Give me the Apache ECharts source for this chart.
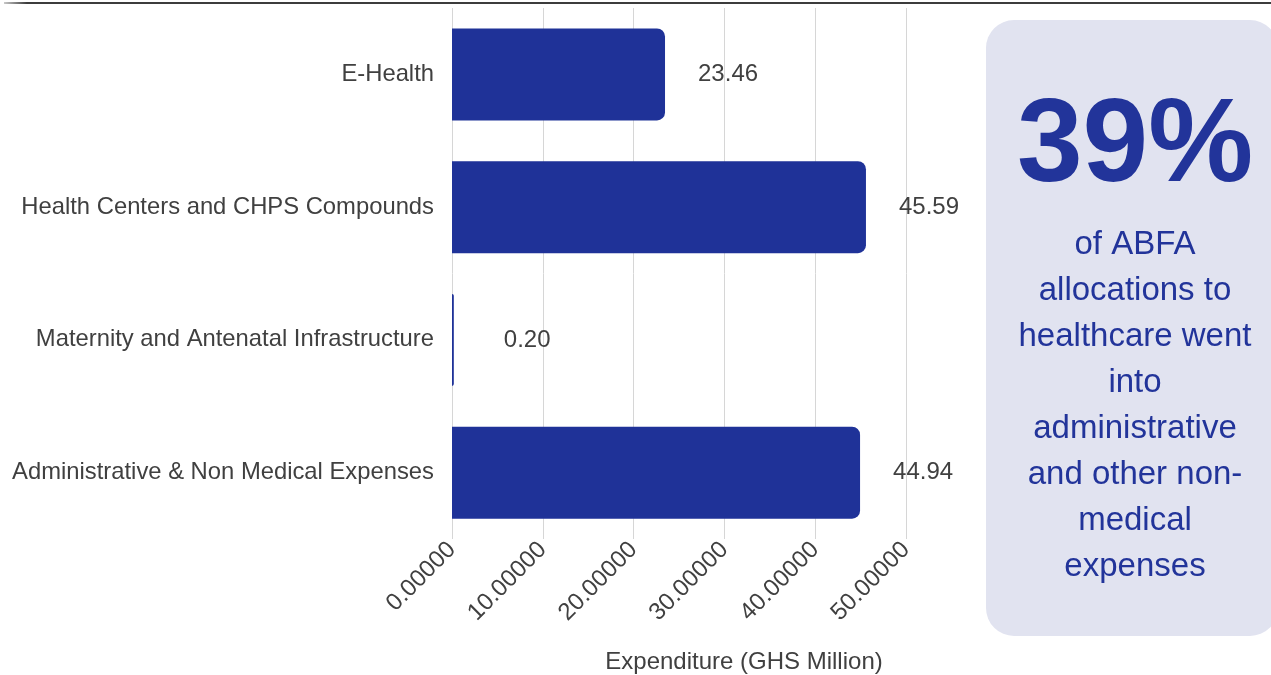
<!DOCTYPE html>
<html>
<head>
<meta charset="utf-8">
<script src="https://cdn.jsdelivr.net/npm/echarts@6/dist/echarts.min.js"></script>
<style>
  html, body { margin: 0; padding: 0; background: #ffffff; }
  #chart { width: 1271px; height: 675px; }
</style>
</head>
<body>
<div id="chart"></div>
<script>
// ABFA healthcare spending by category (GHS million)
const categories = [
  'E-Health',
  'Health Centers and CHPS Compounds',
  'Maternity and Antenatal Infrastructure',
  'Administrative & Non Medical Expenses'
];
const expenditure = [23.46, 45.59, 0.20, 44.94];
const axisTicks = [0, 10, 20, 30, 40, 50];
const axisTitle = 'Expenditure (GHS Million)';
const calloutFigure = '39%';
const calloutLines = [
  'of ABFA',
  'allocations to',
  'healthcare went',
  'into',
  'administrative',
  'and other non-',
  'medical',
  'expenses'
];

const FONT = '"Liberation Sans", Arial, sans-serif';
const TEXT = '#404040';
const BAR = '#1f3298';
const ACCENT = '#22349a';

const chart = echarts.init(document.getElementById('chart'), null, { renderer: 'canvas' });

const barData = expenditure.map(v => ({
  value: v,
  label: { distance: v < 1 ? 50 : 33 }
}));

chart.setOption({
  animation: false,
  backgroundColor: '#ffffff',
  grid: {
    left: 452, right: 365, top: 8, bottom: 136,
    containLabel: false,
    outerBoundsMode: 'none'
  },
  xAxis: {
    type: 'value',
    min: axisTicks[0],
    max: axisTicks[axisTicks.length - 1],
    interval: axisTicks[1] - axisTicks[0],
    axisLine: { show: false },
    axisTick: { show: false },
    splitLine: { show: true, lineStyle: { color: '#d6d6d6', width: 1 } },
    axisLabel: {
      rotate: 45,
      margin: 7,
      color: TEXT,
      fontFamily: FONT,
      fontSize: 24,
      formatter: v => v.toFixed(5)
    },
    name: axisTitle,
    nameLocation: 'middle',
    nameGap: 111,
    nameTextStyle: {
      color: TEXT,
      fontFamily: FONT,
      fontSize: 24,
      padding: [0, 0, 0, 130]
    }
  },
  yAxis: {
    type: 'category',
    data: categories,
    inverse: true,
    axisLine: { show: false },
    axisTick: { show: false },
    splitLine: { show: false },
    axisLabel: {
      margin: 18,
      color: TEXT,
      fontFamily: FONT,
      fontSize: 23.8
    }
  },
  series: [{
    type: 'bar',
    data: barData,
    barWidth: 92,
    itemStyle: { color: BAR, borderRadius: [0, 8, 8, 0] },
    label: {
      show: true,
      position: 'right',
      color: TEXT,
      fontFamily: FONT,
      fontSize: 24,
      formatter: p => p.value.toFixed(2)
    }
  }],
  graphic: [
    {
      type: 'line',
      silent: true,
      shape: { x1: 4, y1: 3, x2: 1271, y2: 3 },
      style: {
        lineWidth: 2,
        stroke: new echarts.graphic.LinearGradient(0, 0, 1, 0, [
          { offset: 0, color: 'rgba(60,60,60,0.2)' },
          { offset: 0.02, color: '#3c3c3c' },
          { offset: 1, color: '#3c3c3c' }
        ])
      }
    },
    {
      type: 'rect',
      silent: true,
      shape: { x: 986, y: 20, width: 292, height: 616, r: 28 },
      style: { fill: '#e1e3f0' }
    },
    {
      type: 'text',
      silent: true,
      style: {
        x: 1135,
        y: 148,
        text: calloutFigure,
        align: 'center',
        verticalAlign: 'middle',
        fontFamily: FONT,
        fontWeight: 'bold',
        fontSize: 118,
        fill: ACCENT
      }
    },
    {
      type: 'text',
      silent: true,
      style: {
        x: 1135,
        y: 222,
        text: calloutLines.join('\n'),
        align: 'center',
        verticalAlign: 'top',
        fontFamily: FONT,
        fontSize: 33,
        lineHeight: 46,
        fill: ACCENT
      }
    }
  ]
});
</script>
</body>
</html>
